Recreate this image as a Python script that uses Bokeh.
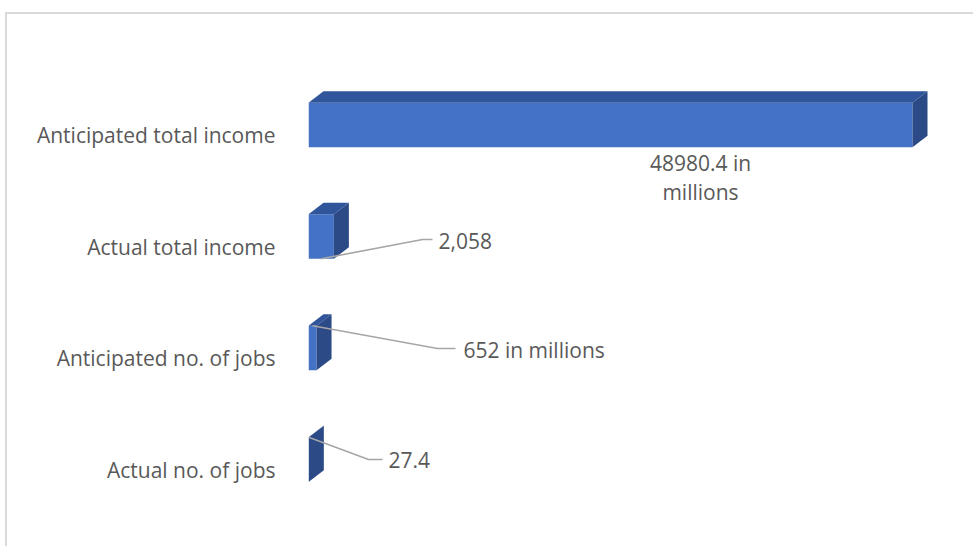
from bokeh.plotting import figure
from bokeh.models import Range1d, FixedTicker
from bokeh.embed import file_html
from bokeh.resources import INLINE
from bokeh.core.properties import value

# ---- data ----
categories = ["Anticipated total income", "Actual total income",
              "Anticipated no. of jobs", "Actual no. of jobs"]
values = [48980.4, 2058, 652, 27.4]
data_labels = ["48980.4 in", "millions", "2,058", "652 in millions", "27.4"]

# ---- layout constants ----
PX = 48980.4 / 604.0          # data units per pixel on x
UY = 111.5                    # pixels per category on y
ypos = [3, 2, 1, 0]           # top to bottom
DX = 15 * PX                  # 3D depth offset (x)
DY = 11.5 / UY                # 3D depth offset (y)
F_BOT, F_TOP = -0.106, 0.294  # front face extent around category position

FONT = "Open Sans"
FS = "21px"
TXT = "#595959"

p = figure(width=968, height=534, output_backend="svg", toolbar_location=None,
           x_range=Range1d(0, 652 * PX), y_range=Range1d(-0.310, 3.762),
           min_border_left=301, min_border_right=15, min_border_top=36,
           min_border_bottom=44)
p.styles = {"position": "relative", "left": "5px", "top": "12px",
            "border-top": "2px solid #d9d9d9", "border-left": "2px solid #d9d9d9"}
p.outline_line_color = None
p.grid.visible = False
p.xaxis.visible = False

ya = p.yaxis[0]
ya.ticker = FixedTicker(ticks=ypos)
ya.major_label_overrides = {float(y): c for y, c in zip(ypos, categories)}
ya.axis_line_color = None
ya.major_tick_line_color = None
ya.minor_tick_line_color = None
ya.major_label_standoff = 27
ya.major_label_text_font = FONT
ya.major_label_text_font_size = FS
ya.major_label_text_color = TXT

# ---- 3D bars ----
left = [0.0] * len(values)
bottom = [y + F_BOT for y in ypos]
top = [y + F_TOP for y in ypos]
p.quad(left=left, right=values, bottom=bottom, top=top,
       fill_color="#4472c4", line_color=None)

top_xs = [[0, v, v + DX, DX] for v in values]
top_ys = [[t, t, t + DY, t + DY] for t in top]
p.patches(top_xs, top_ys, fill_color="#31559a", line_color=None)

side_xs = [[v, v, v + DX, v + DX] for v in values]
side_ys = [[b, t, t + DY, b + DY] for b, t in zip(bottom, top)]
p.patches(side_xs, side_ys, fill_color="#2c4a86", line_color=None)

# ---- data labels with leader lines ----
# bar 1 label (two lines, below the bar, centred)
p.text(x=[31788, 31788], y=[2.757, 2.497], text=data_labels[0:2],
       text_align="center", text_baseline="middle", text_font=value(FONT),
       text_font_size=FS, text_color=TXT)

# leader lines for the others: start on the bar, bend point, end point
lead_start_y = [bottom[1], top[2], top[3]]
lead_bend = [(9245, 2.067), (10461, 1.089), (4866, 0.094)]
lead_end_x = [10056, 11921, 6001]
lab_x = [10542, 12569, 6487]
lab_y = [2.049, 1.080, 0.085]
xs, ys = [], []
for i, idx in enumerate([1, 2, 3]):
    sx = values[idx] / 2
    bx, by = lead_bend[i]
    xs.append([sx, bx, lead_end_x[i]])
    ys.append([lead_start_y[i], by, by])
p.multi_line(xs, ys, line_color="#a6a6a6", line_width=1.6)
p.text(x=lab_x, y=lab_y, text=data_labels[2:], text_align="left",
       text_baseline="middle", text_font=value(FONT), text_font_size=FS,
       text_color=TXT)

open("out.html", "w").write(file_html(p, INLINE))
